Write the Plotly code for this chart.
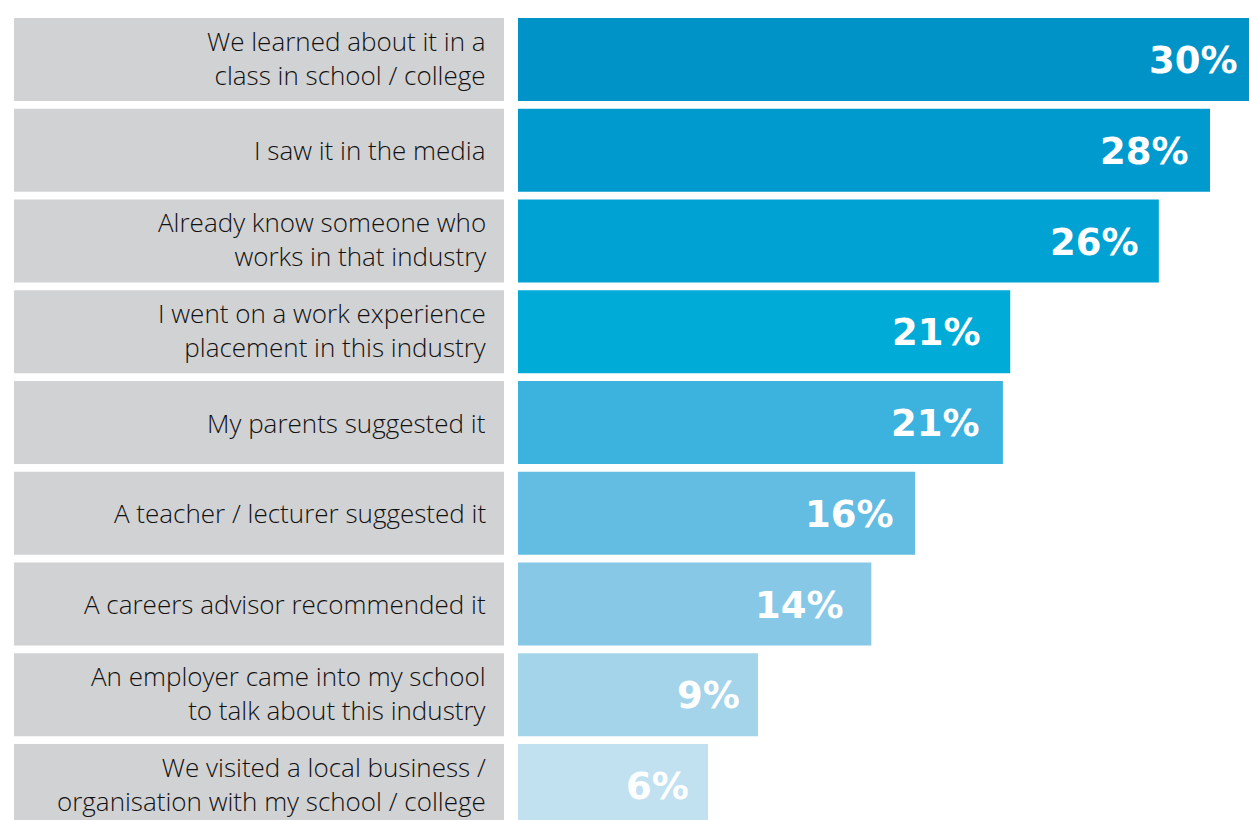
import plotly.graph_objects as go

categories = [
    "We learned about it in a<br>class in school / college",
    "I saw it in the media",
    "Already know someone who<br>works in that industry",
    "I went on a work experience<br>placement in this industry",
    "My parents suggested it",
    "A teacher / lecturer suggested it",
    "A careers advisor recommended it",
    "An employer came into my school<br>to talk about this industry",
    "We visited a local business /<br>organisation with my school / college",
]
values = [30.0, 28.4, 26.3, 20.2, 19.9, 16.3, 14.5, 9.85, 7.8]
value_labels = ["30%", "28%", "26%", "21%", "21%", "16%", "14%", "9%", "6%"]
colors = ["#0093c8", "#009ace", "#00a2d3", "#00abd8", "#3cb2de", "#63bce2",
          "#87c8e6", "#a3d4ea", "#c1e1f1"]
label_pads = [-9, -19, -18, -27, -21, -19, -25, -16, -17]

ypos = list(range(len(categories)))
W, H = 1249, 820

fig = go.Figure()
# grey label boxes
fig.add_trace(go.Bar(
    x=[1] * len(categories), y=ypos, orientation="h",
    marker=dict(color="#d1d2d4", line=dict(width=0)),
    xaxis="x2", yaxis="y", hoverinfo="skip", showlegend=False,
))
# value bars
fig.add_trace(go.Bar(
    x=values, y=ypos, orientation="h",
    marker=dict(color=colors, line=dict(width=0)),
    xaxis="x", yaxis="y", hoverinfo="skip", showlegend=False,
))

annotations = []
for i, c in enumerate(categories):
    annotations.append(dict(
        x=1, y=i, xref="x2", yref="y", text=c, showarrow=False,
        xanchor="right", yanchor="middle", align="right", xshift=-16,
        yshift=2 if "<br>" in c else 0,
        font=dict(family="Open Sans", size=26, color="#111111", weight=300),
    ))
for i, (v, t) in enumerate(zip(values, value_labels)):
    annotations.append(dict(
        x=v, y=i, xref="x", yref="y", text=t, showarrow=False,
        xanchor="right", yanchor="middle", xshift=label_pads[i], yshift=-1,
        font=dict(family="DejaVu Sans", size=37, color="white", weight="bold"),
    ))

fig.update_layout(
    width=W, height=H,
    margin=dict(l=0, r=0, t=0, b=0),
    paper_bgcolor="white", plot_bgcolor="white",
    bargap=0.0854, barmode="overlay",
    xaxis=dict(domain=[518 / W, 1], range=[0, 30], visible=False, fixedrange=True),
    xaxis2=dict(domain=[14 / W, 504 / W], range=[0, 1], visible=False,
                anchor="y", fixedrange=True),
    yaxis=dict(range=[8.380, -0.6556], visible=False, fixedrange=True),
    annotations=annotations,
)

fig.write_html(
    "out.html",
    config={"displayModeBar": False, "staticPlot": True},
    post_script="document.body.style.margin='0';document.body.style.overflow='hidden';",
)
